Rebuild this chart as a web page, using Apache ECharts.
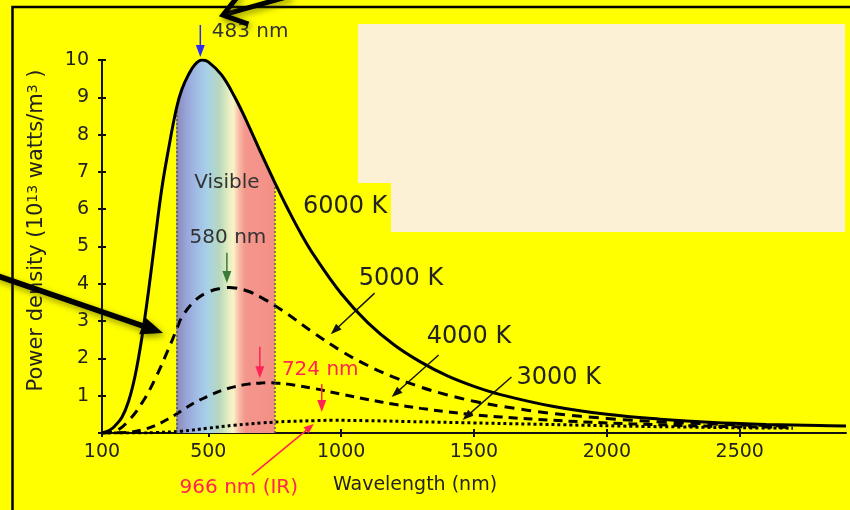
<!DOCTYPE html>
<html><head><meta charset="utf-8">
<script src="https://cdn.jsdelivr.net/npm/echarts@6/dist/echarts.min.js"></script>
<style>html,body{margin:0;padding:0;background:#ffff00;}#c{width:850px;height:510px;}</style>
</head><body><div id="c"></div>
<script>
// ---- data ----
const wl6000 = [100,130,150,175,200,225,250,275,300,325,350,380,400,425,450,477,500,550,600,650,700,750,800,850,900,1000,1100,1200,1300,1400,1500,1600,1800,2000,2200,2400,2600,2800,2900];
const pw6000 = [0,0.08,0.2,0.42,0.85,1.55,2.55,3.8,5.2,6.55,7.6,8.7,9.2,9.6,9.88,10,9.95,9.6,9.0,8.27,7.48,6.72,6.0,5.33,4.74,3.74,2.96,2.36,1.9,1.53,1.25,1.03,0.71,0.5,0.37,0.28,0.23,0.2,0.19];
const wl5000 = [100,150,200,250,300,350,380,400,450,500,550,580,600,650,700,750,800,900,1000,1100,1200,1300,1400,1500,1600,1800,2000,2200,2400,2600,2700];
const pw5000 = [0,0.05,0.33,0.8,1.45,2.25,2.76,3.1,3.55,3.78,3.88,3.9,3.89,3.8,3.63,3.42,3.18,2.67,2.2,1.81,1.49,1.23,1.02,0.85,0.72,0.52,0.39,0.3,0.24,0.2,0.19];
const wl4000 = [100,200,250,300,350,400,450,500,550,600,650,700,724,750,800,900,1000,1100,1200,1300,1400,1500,1600,1800,2000,2200,2400,2600,2700];
const pw4000 = [0,0.02,0.08,0.2,0.38,0.6,0.82,0.99,1.14,1.24,1.31,1.34,1.35,1.34,1.31,1.19,1.04,0.9,0.77,0.66,0.57,0.49,0.43,0.34,0.27,0.22,0.18,0.16,0.15];
const wl3000 = [100,250,300,400,500,600,700,800,900,966,1100,1300,1500,1700,1900,2100,2300,2500,2700];
const pw3000 = [0,0,0.01,0.05,0.13,0.21,0.27,0.31,0.33,0.34,0.33,0.3,0.27,0.24,0.21,0.18,0.16,0.14,0.13];
const xTicks = [100,500,1000,1500,2000,2500];
const visibleRange = [380, 750];
const curveNames = ['6000 K','5000 K','4000 K','3000 K'];
const peakTexts = ['483 nm','580 nm','724 nm','966 nm (IR)'];
const bandText = 'Visible';
const xName = 'Wavelength (nm)';
const yName = '{a|Power density (10}{s|13}{a| watts/m}{s|3}{a| )}';

const pairs = (w,p)=>w.map((x,i)=>[x,p[i]]);
const d6000 = pairs(wl6000,pw6000), d5000 = pairs(wl5000,pw5000), d4000 = pairs(wl4000,pw4000), d3000 = pairs(wl3000,pw3000);
const band = d6000.filter(d=>d[0]>=visibleRange[0] && d[0]<=visibleRange[1]);
const bandTop = v=>band.find(d=>d[0]===v)[1];

const FF = 'DejaVu Sans';
const SM = 0.4;
const tickStyle = {color:'#111', width:2};

const option = {
  backgroundColor:'#ffff00',
  animation:false,
  grid:{left:102, right:4, top:60, bottom:77, outerBoundsMode:'none'},
  xAxis:[{
    type:'value', min:100, max:2900, position:'bottom',
    axisLine:{show:true, onZero:false, lineStyle:{color:'#111', width:2}},
    axisTick:{show:true, length:4, lineStyle:tickStyle, customValues:xTicks},
    axisLabel:{customValues:xTicks, color:'#222', fontFamily:FF, fontSize:19, margin:10, formatter:v=>String(v)},
    splitLine:{show:false},
    name:xName, nameLocation:'middle', nameGap:43, nameMoveOverlap:false,
    nameTextStyle:{color:'#222', fontFamily:FF, fontSize:19, padding:[0,118,0,0]}
  },{
    type:'value', min:100, max:2900, position:'bottom',
    axisLine:{show:false}, axisLabel:{show:false}, splitLine:{show:false},
    axisTick:{show:true, inside:true, length:4, lineStyle:tickStyle, customValues:xTicks}
  }],
  yAxis:[{
    type:'value', min:0, max:10, interval:1, position:'left',
    axisLine:{show:true, onZero:false, lineStyle:{color:'#111', width:2}},
    axisTick:{show:true, length:4, lineStyle:tickStyle},
    axisLabel:{color:'#222', fontFamily:FF, fontSize:19, margin:13, formatter:v=>v===0?'':String(v)},
    splitLine:{show:false},
    name:yName, nameLocation:'middle', nameGap:55, nameRotate:90, nameMoveOverlap:false,
    nameTextStyle:{color:'#222', fontFamily:FF, fontSize:21, padding:[0,0,0,32],
      rich:{a:{fontSize:21, fontFamily:FF, color:'#222'}, s:{fontSize:14, fontFamily:FF, color:'#222', verticalAlign:'top'}}}
  },{
    type:'value', min:0, max:10, interval:1, position:'left',
    axisLine:{show:false}, axisLabel:{show:false}, splitLine:{show:false},
    axisTick:{show:true, inside:true, length:4, lineStyle:tickStyle}
  }],
  series:[
    {type:'line', name:bandText, data:band, smooth:SM, symbol:'none', z:1,
     lineStyle:{width:0},
     areaStyle:{opacity:1, color:{type:'linear', x:0, y:0, x2:1, y2:0, colorStops:[
       {offset:0, color:'#8a88b6'}, {offset:0.1, color:'#98a4d8'}, {offset:0.22, color:'#a2bfe6'},
       {offset:0.32, color:'#a8d2e6'}, {offset:0.44, color:'#b8d8bc'}, {offset:0.53, color:'#e4eec0'},
       {offset:0.58, color:'#fbf2c8'}, {offset:0.64, color:'#f6b8a4'}, {offset:0.7, color:'#f4968c'},
       {offset:1, color:'#f39086'}]}},
     markLine:{silent:true, symbol:['none','none'], label:{show:false},
       lineStyle:{color:'#555', width:1.5, type:[2,2]},
       data:visibleRange.map(v=>[{coord:[v,0]},{coord:[v,bandTop(v)]}])}
    },
    {type:'line', name:curveNames[0], data:d6000, smooth:SM, symbol:'none', z:5,
     lineStyle:{color:'#000', width:3}},
    {type:'line', name:curveNames[1], data:d5000, smooth:SM, symbol:'none', z:4,
     lineStyle:{color:'#000', width:3, type:[10,7]}},
    {type:'line', name:curveNames[2], data:d4000, smooth:SM, symbol:'none', z:4,
     lineStyle:{color:'#000', width:3, type:[9,6]}},
    {type:'line', name:curveNames[3], data:d3000, smooth:SM, symbol:'none', z:4,
     lineStyle:{color:'#000', width:3, type:[3,3]}}
  ]
};

const chart = echarts.init(document.getElementById('c'));
chart.setOption(option);

const P = (x,y)=>chart.convertToPixel({xAxisIndex:0, yAxisIndex:0},[x,y]);
const G = [];
function arrow(a,b,color,w,hl,hw,extra){
  const dx=b[0]-a[0], dy=b[1]-a[1], L=Math.hypot(dx,dy), ux=dx/L, uy=dy/L;
  const bx=b[0]-ux*hl, by=b[1]-uy*hl, px=-uy, py=ux;
  const ex = extra||{};
  G.push({type:'line', z:50, shape:{x1:a[0],y1:a[1],x2:bx+ux*1,y2:by+uy*1}, style:Object.assign({stroke:color, lineWidth:w}, ex)});
  G.push({type:'polygon', z:50, shape:{points:[[b[0],b[1]],[bx+px*hw,by+py*hw],[bx-px*hw,by-py*hw]]}, style:Object.assign({fill:color}, ex)});
}
function text(t,pt,color,size,align){
  G.push({type:'text', z:60, x:pt[0], y:pt[1], style:{text:t, fill:color, fontFamily:FF, fontSize:size, align:align||'left', verticalAlign:'middle'}});
}
const RED = '#ff2455';
// peak arrows
arrow(P(470,10.94), P(470,10.08), '#2b2bf5', 1.5, 12, 4.5);
arrow(P(570,4.83), P(570,4.02), '#3a7a3a', 1.5, 12, 4.5);
arrow(P(694,2.31), P(694,1.47), RED, 1.5, 12, 4.5);
arrow(P(927,1.31), P(927,0.56), RED, 1.5, 12, 4.5);
arrow(P(664,-1.13), P(897,0.24), RED, 1.6, 10, 4);
// curve pointers
arrow(P(1126,3.75), P(961,2.65), '#111', 1.4, 11, 4);
arrow(P(1367,2.09), P(1190,0.965), '#111', 1.4, 11, 4);
arrow(P(1641,1.50), P(1457,0.35), '#111', 1.4, 11, 4);
// labels
text(peakTexts[0], P(513,10.75), '#333', 20, 'left');
text(bandText, P(570,6.70), '#333', 20, 'center');
text(peakTexts[1], P(574,5.23), '#333', 20, 'center');
text(peakTexts[2], P(777,1.69), RED, 20, 'left');
text(peakTexts[3], P(615,-1.47), RED, 20, 'center');
text(curveNames[0], P(856,6.06), '#222', 24, 'left');
text(curveNames[1], P(1066,4.13), '#222', 24, 'left');
text(curveNames[2], P(1322,2.57), '#222', 24, 'left');
text(curveNames[3], P(1660,1.47), '#222', 24, 'left');

// decorations (pixel space, outside the data)
G.push({type:'rect', z:40, shape:{x:12.5, y:7, width:900, height:600}, style:{fill:'none', stroke:'#000', lineWidth:2.5}});
G.push({type:'polygon', z:70, shape:{points:[[358,24],[845,24],[845,232],[391,232],[391,183],[358,183]]}, style:{fill:'#fcf1d4'}});
const SH = {shadowBlur:6, shadowColor:'rgba(60,60,0,0.55)', shadowOffsetX:2, shadowOffsetY:3};
// left big arrow
(function(){
  const a=[-5,275], b=[163,333];
  const dx=b[0]-a[0], dy=b[1]-a[1], L=Math.hypot(dx,dy), ux=dx/L, uy=dy/L, hl=22, hw=9;
  const bx=b[0]-ux*hl, by=b[1]-uy*hl, px=-uy, py=ux;
  G.push({type:'line', z:80, shape:{x1:a[0],y1:a[1],x2:bx+ux*2,y2:by+uy*2}, style:Object.assign({stroke:'#000', lineWidth:5.5}, SH)});
  G.push({type:'polygon', z:80, shape:{points:[[b[0],b[1]],[bx+px*hw,by+py*hw],[bx-px*hw,by-py*hw]]}, style:Object.assign({fill:'#000'}, SH)});
})();
// top big arrow (open head)
(function(){
  const tip=[223,15], tail=[290,-4];
  const dx=tail[0]-tip[0], dy=tail[1]-tip[1], L=Math.hypot(dx,dy), ux=dx/L, uy=dy/L;
  const rot=(t)=>[ux*Math.cos(t)-uy*Math.sin(t), ux*Math.sin(t)+uy*Math.cos(t)];
  const r1=rot(0.62), r2=rot(-0.62), bl=27;
  G.push({type:'line', z:80, shape:{x1:tip[0]+ux*2,y1:tip[1]+uy*2,x2:tail[0],y2:tail[1]}, style:Object.assign({stroke:'#000', lineWidth:5}, SH)});
  G.push({type:'polyline', z:80, shape:{points:[[tip[0]+r1[0]*bl, tip[1]+r1[1]*bl],[tip[0],tip[1]],[tip[0]+r2[0]*bl, tip[1]+r2[1]*bl]]}, style:Object.assign({stroke:'#000', lineWidth:5, fill:'none', lineJoin:'miter'}, SH)});
})();

chart.setOption({graphic:{elements:G}});
</script>
</body></html>
